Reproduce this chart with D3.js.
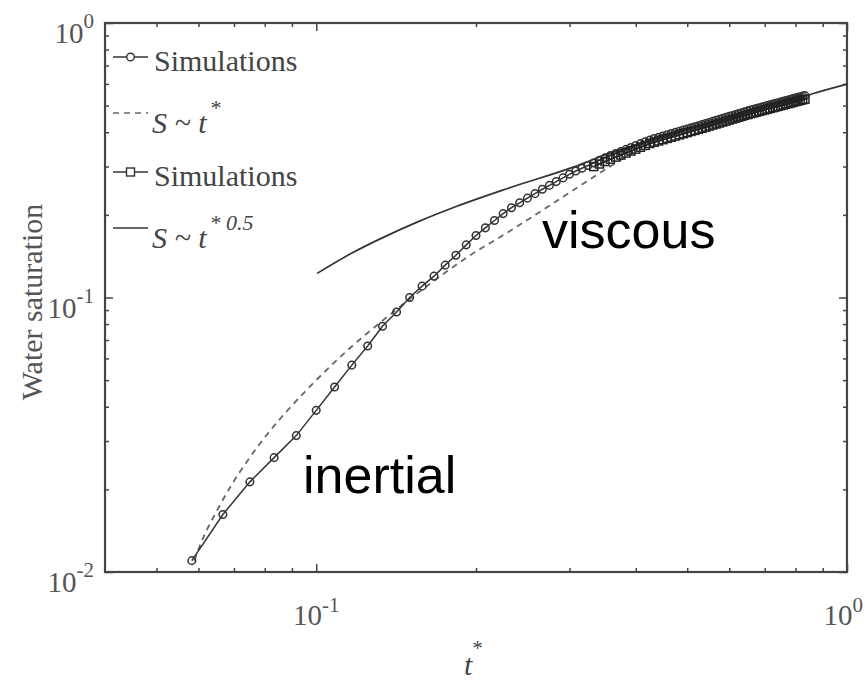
<!DOCTYPE html>
<html>
<head>
<meta charset="utf-8" />
<title>Water saturation vs t*</title>
<script src="https://d3js.org/d3.v7.min.js"></script>
<style>
  body { margin: 0; background: #fff; }
  svg { display: block; background: #fff; }
  .serif { font-family: "Liberation Serif", "DejaVu Serif", serif; }
  .sans { font-family: "Liberation Sans", Arial, sans-serif; }
  .axis line { stroke: #444; stroke-width: 1.5; }
</style>
</head>
<body>
<svg id="chart" width="865" height="680"></svg>
<script>
// simulation (circles), t* values and water saturation
const simT = [0.0583, 0.0667, 0.075, 0.0833, 0.0917, 0.1, 0.1083, 0.1167, 0.125, 0.1333,
  0.1417, 0.15, 0.1583, 0.1667, 0.175, 0.1833, 0.1917, 0.2, 0.2083, 0.2167,
  0.225, 0.2333, 0.2417, 0.25, 0.2583, 0.2667, 0.275, 0.2833, 0.2917, 0.3,
  0.3083, 0.3167, 0.325, 0.3333, 0.3417, 0.35, 0.3583, 0.3667, 0.375, 0.3833,
  0.3917, 0.4, 0.4083, 0.4167, 0.425, 0.4333, 0.4417, 0.45, 0.4583, 0.4667,
  0.475, 0.4833, 0.4917, 0.5, 0.5083, 0.5167, 0.525, 0.5333, 0.5417, 0.55,
  0.5583, 0.5667, 0.575, 0.5833, 0.5917, 0.6, 0.6083, 0.6167, 0.625, 0.6333,
  0.6417, 0.65, 0.6583, 0.6667, 0.675, 0.6833, 0.6917, 0.7, 0.7083, 0.7167,
  0.725, 0.7333, 0.7417, 0.75, 0.7583, 0.7667, 0.775, 0.7833, 0.7917, 0.8,
  0.8083, 0.8167, 0.825, 0.8333];
const simS = [0.0110, 0.0162, 0.0213, 0.0261, 0.0314, 0.0388, 0.0472, 0.0567, 0.0666, 0.0786,
  0.0886, 0.1000, 0.1100, 0.1196, 0.1312, 0.1426, 0.1555, 0.1683, 0.1794, 0.1908,
  0.2021, 0.2124, 0.2213, 0.2301, 0.2390, 0.2479, 0.2561, 0.2644, 0.2727, 0.2811,
  0.2889, 0.2957, 0.3025, 0.3092, 0.3159, 0.3226, 0.3289, 0.3347, 0.3405, 0.3463,
  0.3521, 0.3578, 0.3636, 0.3693, 0.3750, 0.3793, 0.3834, 0.3874, 0.3915, 0.3955,
  0.3994, 0.4034, 0.4073, 0.4111, 0.4150, 0.4188, 0.4226, 0.4264, 0.4303, 0.4342,
  0.4380, 0.4418, 0.4456, 0.4494, 0.4530, 0.4568, 0.4605, 0.4641, 0.4677, 0.4713,
  0.4750, 0.4785, 0.4819, 0.4851, 0.4882, 0.4913, 0.4944, 0.4974, 0.5005, 0.5035,
  0.5066, 0.5096, 0.5125, 0.5155, 0.5185, 0.5214, 0.5243, 0.5272, 0.5301, 0.5331,
  0.5359, 0.5387, 0.5413, 0.5439];

// second simulation (squares), lies on the upper part of the band
const sqT = simT.slice(33);
const sqS = [0.2999, 0.3064, 0.3129, 0.3190, 0.3247, 0.3303, 0.3359, 0.3415, 0.3471, 0.3527,
  0.3582, 0.3638, 0.3679, 0.3719, 0.3758, 0.3798, 0.3836, 0.3874, 0.3913, 0.3951,
  0.3988, 0.4026, 0.4062, 0.4099, 0.4136, 0.4174, 0.4212, 0.4249, 0.4285, 0.4322,
  0.4359, 0.4394, 0.4431, 0.4467, 0.4502, 0.4537, 0.4572, 0.4608, 0.4641, 0.4674,
  0.4705, 0.4736, 0.4766, 0.4796, 0.4825, 0.4855, 0.4884, 0.4914, 0.4943, 0.4971,
  0.5000, 0.5029, 0.5058, 0.5086, 0.5114, 0.5142, 0.5171, 0.5198, 0.5225, 0.5251,
  0.5276];

// S ~ t* (dashed)
const dashT = [0.0589, 0.0608, 0.0653, 0.0692, 0.0744, 0.0811, 0.0885, 0.0965, 0.1082, 0.118,
  0.1344, 0.16, 0.1928, 0.2293, 0.2648, 0.3059, 0.3637, 0.40];
const dashS = [0.0110, 0.0129, 0.0170, 0.0207, 0.0256, 0.0320, 0.0390, 0.0466, 0.0580, 0.0676,
  0.0834, 0.1084, 0.1405, 0.1725, 0.2060, 0.2470, 0.3060, 0.342];

// S ~ t*^0.5 (solid)
const solT = [0.1004, 0.1163, 0.1344, 0.1553, 0.1794, 0.2293, 0.3059, 0.3637, 0.45, 0.55,
  0.65, 0.75, 0.8643, 1.0];
const solS = [0.1224, 0.1446, 0.1663, 0.1886, 0.2110, 0.2495, 0.2991, 0.340, 0.383, 0.430,
  0.471, 0.509, 0.5538, 0.5989];

// ticks
const xMajor = [0.1, 1];
const xMajorExp = ["-1", "0"];
const xMinor = [0.05, 0.06, 0.07, 0.08, 0.09, 0.2, 0.3, 0.4, 0.5, 0.6, 0.7, 0.8, 0.9];
const yMajor = [0.01, 0.1, 1];
const yMajorExp = ["-2", "-1", "0"];
const yMinor = [0.02, 0.03, 0.04, 0.05, 0.06, 0.07, 0.08, 0.09, 0.2, 0.3, 0.4, 0.5, 0.6, 0.7, 0.8, 0.9];

const plotLeft = 105, plotRight = 847, plotTop = 23, plotBottom = 572;

const svg = d3.select("#chart");

const x = d3.scaleLog().domain([0.04, 1]).range([plotLeft, plotRight]);
const y = d3.scaleLog().domain([0.01, 1]).range([plotBottom, plotTop]);

// inward ticks on all four sides
function addTicks(axis, values, size, transform) {
  svg.append("g")
    .attr("class", "axis")
    .attr("transform", transform)
    .call(axis.tickValues(values).tickSize(size).tickSizeOuter(0).tickFormat(""))
    .call((g) => g.select(".domain").remove());
}
addTicks(d3.axisBottom(x), xMajor, -8, `translate(0,${plotBottom})`);
addTicks(d3.axisBottom(x), xMinor, -4, `translate(0,${plotBottom})`);
addTicks(d3.axisTop(x), xMajor, -8, `translate(0,${plotTop})`);
addTicks(d3.axisTop(x), xMinor, -4, `translate(0,${plotTop})`);
addTicks(d3.axisLeft(y), yMajor, -8, `translate(${plotLeft},0)`);
addTicks(d3.axisLeft(y), yMinor, -4, `translate(${plotLeft},0)`);
addTicks(d3.axisRight(y), yMajor, -8, `translate(${plotRight},0)`);
addTicks(d3.axisRight(y), yMinor, -4, `translate(${plotRight},0)`);

svg.append("rect")
  .attr("x", plotLeft).attr("y", plotTop)
  .attr("width", plotRight - plotLeft).attr("height", plotBottom - plotTop)
  .attr("fill", "none").attr("stroke", "#444").attr("stroke-width", 2.2);

// tick labels 10^n (the last one kept inside the page edge)
xMajor.forEach((v, i) => {
  const last = i === xMajor.length - 1;
  const t = svg.append("text").attr("class", "serif")
    .attr("x", last ? 863 : x(v)).attr("y", plotBottom + 53)
    .attr("text-anchor", last ? "end" : "middle").attr("fill", "#555").style("font-size", "29px");
  t.append("tspan").text("10");
  t.append("tspan").attr("dy", -13).style("font-size", "21px").text(xMajorExp[i]);
});
yMajor.forEach((v, i) => {
  const t = svg.append("text").attr("class", "serif")
    .attr("x", 94).attr("y", y(v) + 20)
    .attr("text-anchor", "end").attr("fill", "#555").style("font-size", "29px");
  t.append("tspan").text("10");
  t.append("tspan").attr("dy", -15).style("font-size", "21px").text(yMajorExp[i]);
});

// axis titles
svg.append("text").attr("class", "serif")
  .attr("transform", "translate(42,302) rotate(-90)")
  .attr("text-anchor", "middle").attr("fill", "#555").style("font-size", "30px")
  .text("Water saturation");
const xt = svg.append("text").attr("class", "serif")
  .attr("x", 464).attr("y", 675).attr("fill", "#444").style("font-size", "30px");
xt.append("tspan").style("font-style", "italic").text("t");
xt.append("tspan").attr("dy", -20).style("font-size", "21px").text("*");

// curves
const line = d3.line().x((d) => x(d[0])).y((d) => y(d[1]));
const smooth = d3.line().x((d) => x(d[0])).y((d) => y(d[1])).curve(d3.curveMonotoneX);

svg.append("path")
  .attr("d", smooth(solT.map((t, i) => [t, solS[i]])))
  .attr("fill", "none").attr("stroke", "#333").attr("stroke-width", 1.7);

svg.append("path")
  .attr("d", smooth(dashT.map((t, i) => [t, dashS[i]])))
  .attr("fill", "none").attr("stroke", "#666").attr("stroke-width", 1.8)
  .attr("stroke-dasharray", "6,5");

const sim = simT.map((t, i) => [t, simS[i]]);
svg.append("path")
  .attr("d", line(sim))
  .attr("fill", "none").attr("stroke", "#333").attr("stroke-width", 1.5);
svg.append("g").selectAll("circle").data(sim).join("circle")
  .attr("cx", (d) => x(d[0])).attr("cy", (d) => y(d[1])).attr("r", 3.8)
  .attr("fill", "none").attr("stroke", "#333").attr("stroke-width", 1.5);

const sq = sqT.map((t, i) => [t, sqS[i]]);
svg.append("path")
  .attr("d", line(sq))
  .attr("fill", "none").attr("stroke", "#222").attr("stroke-width", 1.5);
svg.append("g").selectAll("rect").data(sq).join("rect")
  .attr("x", (d) => x(d[0]) - 4).attr("y", (d) => y(d[1]) - 4)
  .attr("width", 8).attr("height", 8)
  .attr("fill", "none").attr("stroke", "#222").attr("stroke-width", 1.5);

// legend
const legendItems = [
  { label: "Simulations", sup: null, kind: "circle" },
  { label: "S ~ t", sup: "*", kind: "dash" },
  { label: "Simulations", sup: null, kind: "square" },
  { label: "S ~ t", sup: "* 0.5", kind: "solid" },
];
const legendY = [57, 113, 172, 228];
legendItems.forEach((d, i) => {
  const ly = legendY[i];
  const g = svg.append("g");
  g.append("line")
    .attr("x1", 113).attr("x2", 148).attr("y1", ly).attr("y2", ly)
    .attr("stroke", d.kind === "dash" ? "#666" : "#333").attr("stroke-width", 1.6)
    .attr("stroke-dasharray", d.kind === "dash" ? "6,5" : null);
  if (d.kind === "circle") {
    g.append("circle").attr("cx", 130.5).attr("cy", ly).attr("r", 3.8)
      .attr("fill", "#fff").attr("stroke", "#333").attr("stroke-width", 1.4);
  }
  if (d.kind === "square") {
    g.append("rect").attr("x", 126.5).attr("y", ly - 4).attr("width", 8).attr("height", 8)
      .attr("fill", "#fff").attr("stroke", "#333").attr("stroke-width", 1.4);
  }
  const t = g.append("text").attr("class", "serif").attr("fill", "#444")
    .style("font-size", "30px");
  if (d.sup) {
    t.attr("x", 152).attr("y", ly + 20);
    t.append("tspan").style("font-style", "italic").text(d.label);
    t.append("tspan").attr("dx", 3).attr("dy", -18).style("font-size", "22px")
      .style("font-style", "italic").text(d.sup);
  } else {
    t.attr("x", 154).attr("y", ly + 14).text(d.label);
  }
});

// regime annotations
svg.append("text").attr("class", "sans")
  .attr("x", 542).attr("y", 248).attr("fill", "#000").style("font-size", "52px")
  .text("viscous");
svg.append("text").attr("class", "sans")
  .attr("x", 303).attr("y", 493).attr("fill", "#000").style("font-size", "52px")
  .text("inertial");
</script>
</body>
</html>
